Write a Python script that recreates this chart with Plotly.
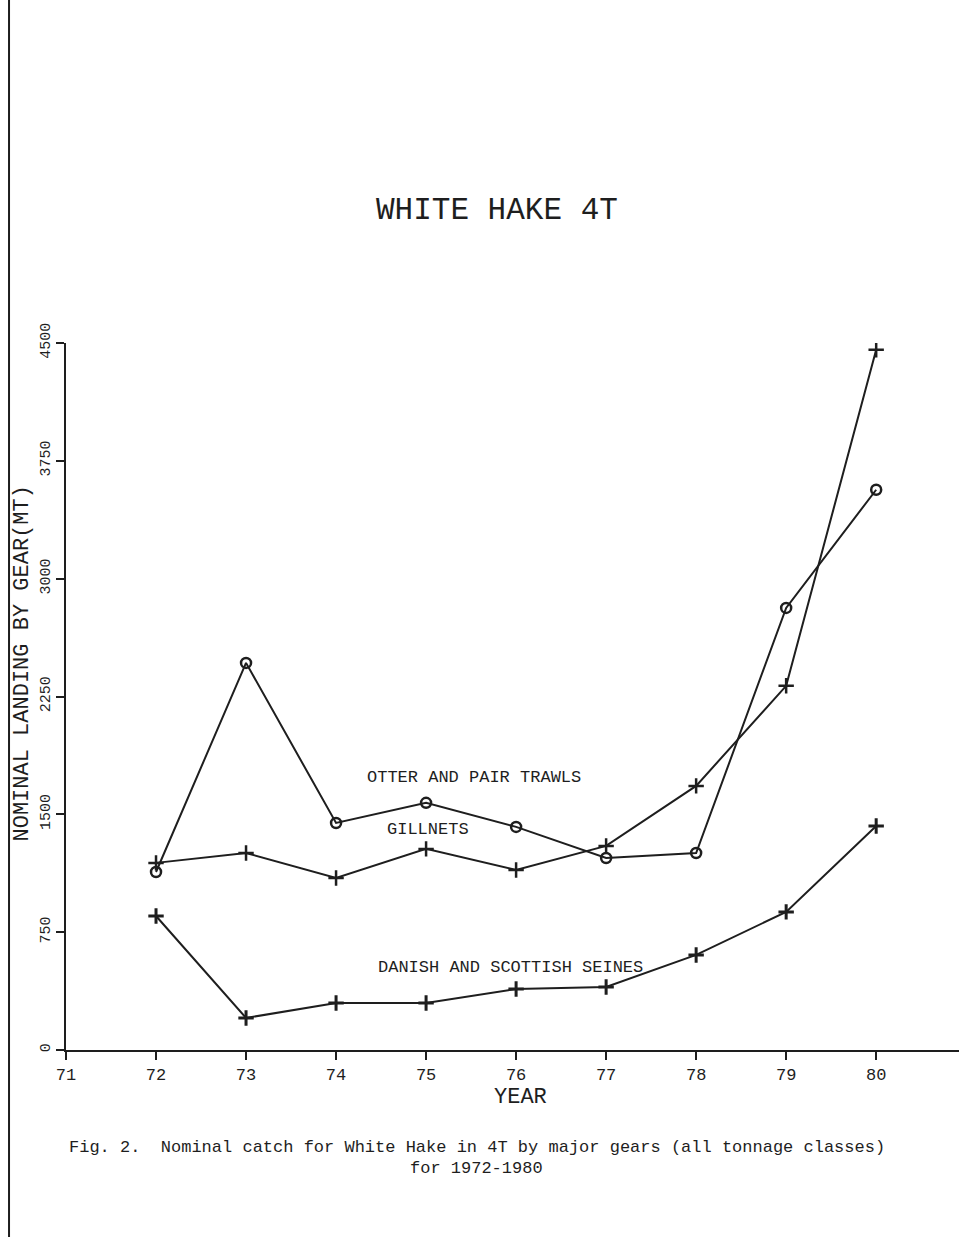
import plotly.graph_objects as go

years = [72, 73, 74, 75, 76, 77, 78, 79, 80]
otter_pair_trawls = [1133, 2464, 1445, 1573, 1420, 1222, 1254, 2814, 3566]
gillnets = [1191, 1254, 1095, 1280, 1146, 1299, 1681, 2318, 4457]
danish_scottish_seines = [853, 204, 299, 299, 388, 401, 605, 879, 1426]

x_ticks = [71, 72, 73, 74, 75, 76, 77, 78, 79, 80]
y_ticks = [0, 750, 1500, 2250, 3000, 3750, 4500]

FONT = "Liberation Mono"
INK = "#1e1e1e"

fig = go.Figure()
fig.add_trace(go.Scatter(
    x=years, y=otter_pair_trawls, mode="lines+markers", name="OTTER AND PAIR TRAWLS",
    line=dict(color=INK, width=2),
    marker=dict(symbol="circle-open", size=10, color=INK, line=dict(width=2.5, color=INK))))
fig.add_trace(go.Scatter(
    x=years, y=gillnets, mode="lines+markers", name="GILLNETS",
    line=dict(color=INK, width=2),
    marker=dict(symbol="cross-thin-open", size=11, color=INK, line=dict(width=2.5, color=INK))))
fig.add_trace(go.Scatter(
    x=years, y=danish_scottish_seines, mode="lines+markers", name="DANISH AND SCOTTISH SEINES",
    line=dict(color=INK, width=2),
    marker=dict(symbol="cross-thin-open", size=11, color=INK, line=dict(width=3, color=INK))))

def ann(x, y, text, size, ref="paper", angle=0):
    return dict(x=x, y=y, xref=ref if ref == "paper" else "x", yref=ref if ref == "paper" else "y",
                text=text, showarrow=False, textangle=angle, xanchor="center", yanchor="middle",
                font=dict(family=FONT, size=size, color=INK))

annotations = [
    ann(75.53, 1732, "OTTER AND PAIR TRAWLS", 17, ref="data"),
    ann(75.02, 1401, "GILLNETS", 17, ref="data"),
    ann(75.94, 528, "DANISH AND SCOTTISH SEINES", 17, ref="data"),
    ann(0.483, 1.187, "WHITE HAKE 4T", 31),
    ann(-0.049, 0.547, "NOMINAL LANDING BY GEAR(MT)", 22, angle=-90),
    ann(0.5095, -0.0665, "YEAR", 22),
    ann(0.460, -0.1386, "Fig. 2.  Nominal catch for White Hake in 4T by major gears (all tonnage classes)", 17),
    ann(0.460, -0.168, "for 1972-1980", 17),
]

fig.update_layout(
    width=959, height=1237,
    margin=dict(l=66, r=0, t=343, b=187),
    paper_bgcolor="white", plot_bgcolor="white",
    showlegend=False,
    annotations=annotations,
    shapes=[dict(type="line", xref="paper", yref="paper", x0=-0.0638, x1=-0.0638,
                 y0=1.49, y1=-0.27, line=dict(color=INK, width=2))],
    xaxis=dict(range=[71, 80.92], tickvals=x_ticks, ticktext=[str(v) for v in x_ticks],
               showgrid=False, zeroline=False, showline=True, linecolor=INK, linewidth=2,
               ticks="outside", ticklen=8, tickwidth=2, tickcolor=INK,
               tickfont=dict(family=FONT, size=17, color=INK)),
    yaxis=dict(range=[0, 4500], tickvals=y_ticks, ticktext=[str(v) for v in y_ticks],
               showgrid=False, zeroline=False, showline=True, linecolor=INK, linewidth=2,
               ticks="outside", ticklen=8, tickwidth=2, tickcolor=INK, tickangle=-90,
               tickfont=dict(family=FONT, size=15, color=INK)),
)

fig.write_html("out.html")
